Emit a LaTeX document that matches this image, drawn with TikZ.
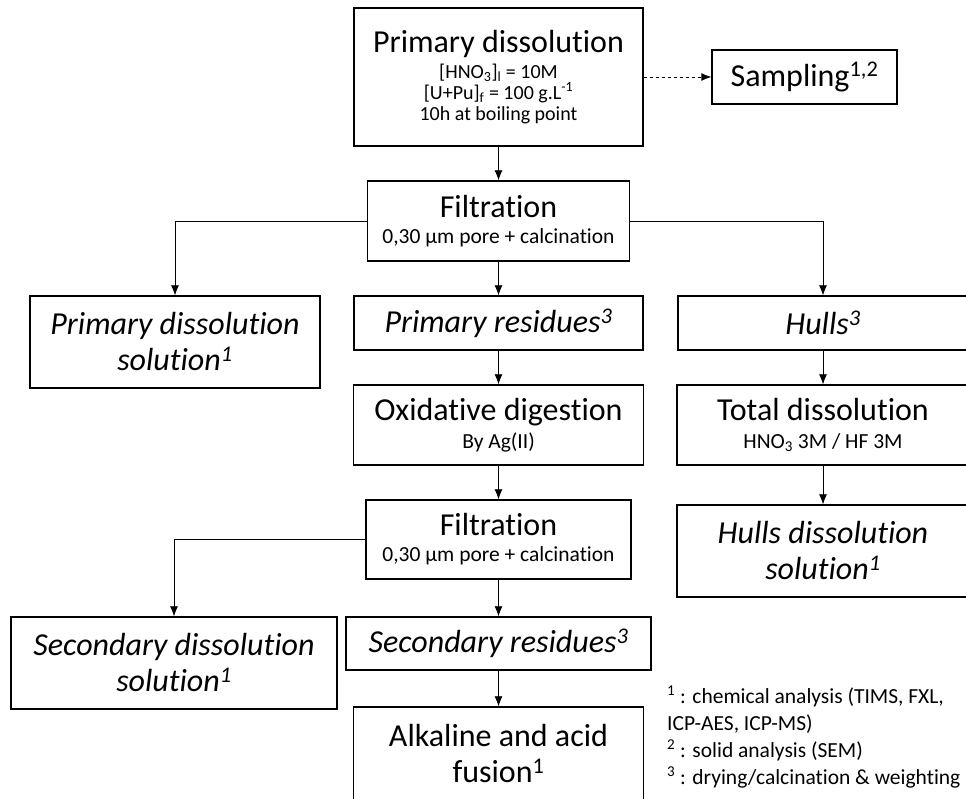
\documentclass[tikz,border=0pt]{standalone}
\usepackage{fontspec}
\setmainfont{Carlito}[Ligatures={NoCommon,NoRequired,NoContextual}]
\usepackage{tikz}
\usetikzlibrary{arrows.meta}
\tikzset{
  box/.style={draw, line width=1.3pt, align=center, inner sep=0pt, font=\fontsize{32}{36}\selectfont},
  itbox/.style={box, font=\fontsize{32}{36}\selectfont\itshape},
  arr/.style={-{Latex[length=10pt, width=8pt]}, line width=0.8pt},
}
\newcommand{\subtxt}{\fontsize{21.5}{22}\selectfont}
\newcommand{\condtxt}{\fontsize{20}{21}\selectfont}

\begin{document}
\begin{tikzpicture}[x=1pt, y=1pt]
\useasboundingbox (0,0) rectangle (966,799);
% main column
\node[box, minimum width=289pt, minimum height=138pt] (pdiss) at (498.5,722)
  {Primary dissolution\\[-10pt]{\condtxt [HNO\textsubscript{3}]\textsubscript{l} = 10M}\\[-15pt]{\condtxt [U+Pu]\textsubscript{f} = 100 g.L\textsuperscript{-1}}\\[-15pt]{\condtxt 10h at boiling point}};
\node[box, minimum width=185pt, minimum height=54pt] (sampl) at (804.5,722) {Sampling\textsuperscript{1,2}};
\node[box, minimum width=262pt, minimum height=80pt] (filt1) at (498.5,578)
  {Filtration\\[-10pt]{\subtxt 0,30 µm pore + calcination}};
\node[itbox, minimum width=290pt, minimum height=92pt] (pdsol) at (175,457) {Primary dissolution\\solution\textsuperscript{1}};
\node[itbox, minimum width=289pt, minimum height=54pt] (pres) at (498.5,476) {Primary residues\textsuperscript{3}};
\node[itbox, minimum width=290pt, minimum height=54pt] (hulls) at (823,476) {Hulls\textsuperscript{3}};
\node[box, minimum width=290pt, minimum height=80pt] (oxd) at (498.5,374)
  {Oxidative digestion\\[-8pt]{\subtxt By Ag(II)}};
\node[box, minimum width=292pt, minimum height=80pt] (totd) at (823,374)
  {Total dissolution\\[-8pt]{\subtxt HNO\textsubscript{3} 3M / HF 3M}};
\node[box, minimum width=265pt, minimum height=79pt] (filt2) at (498.5,259.5)
  {Filtration\\[-10pt]{\subtxt 0,30 µm pore + calcination}};
\node[itbox, minimum width=292pt, minimum height=92pt] (hdsol) at (823,248) {Hulls dissolution\\solution\textsuperscript{1}};
\node[itbox, minimum width=326pt, minimum height=92pt] (sdsol) at (174,136) {Secondary dissolution\\solution\textsuperscript{1}};
\node[itbox, minimum width=305pt, minimum height=53pt] (sres) at (498.5,155.5) {Secondary residues\textsuperscript{3}};
\node[box, minimum width=290pt, minimum height=93pt] (alk) at (498.5,45.5) {Alkaline and acid\\fusion\textsuperscript{1}};
% footnotes
\node[anchor=west, align=left, inner sep=0pt, font=\fontsize{21.5}{27}\selectfont] (notes) at (667,62)
  {\textsuperscript{1} : chemical analysis (TIMS, FXL,\\ICP-AES, ICP-MS)\\\textsuperscript{2} : solid analysis (SEM)\\\textsuperscript{3} : drying/calcination \& weighting};

\draw[arr, dashed] (pdiss) -- (sampl);
\draw[arr] (pdiss) -- (filt1);
\draw[arr] (filt1.west) -| (pdsol.north);
\draw[arr] (filt1) -- (pres);
\draw[arr] (filt1.east) -| (hulls.north);
\draw[arr] (pres) -- (oxd);
\draw[arr] (oxd) -- (filt2);
\draw[arr] (filt2.west) -| (sdsol.north);
\draw[arr] (filt2) -- (sres);
\draw[arr] (sres) -- (alk);
\draw[arr] (hulls) -- (totd);
\draw[arr] (totd) -- (hdsol);
\end{tikzpicture}
\end{document}
